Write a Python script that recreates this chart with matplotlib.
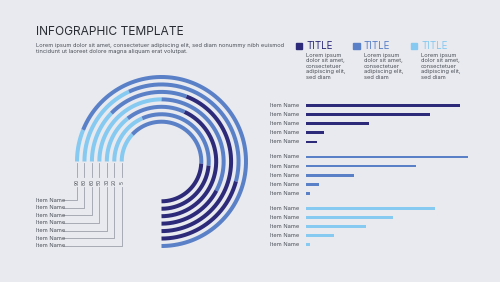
import numpy as np
import matplotlib.pyplot as plt

# ring data, outer -> inner (angles in degrees, clockwise from the left end, total 270)
ring_values = ["90", "80", "60", "50", "30", "20", "5"]
light_end = [22, 65, 44, 90, 52, 66, 43]
navy_start = [270, 195, 111, 208, 115, 185, 183]
ring_items = ["Item Name"] * 7

# bar data, three groups of five
group1 = [95, 77, 39, 11.5, 7]
group2 = [100, 68, 30, 8.5, 2.5]
group3 = [80, 54, 37, 17.5, 2.7]
bar_items = ["Item Name"] * 5

titles = ["TITLE", "TITLE", "TITLE"]
body = "Lorem ipsum\ndolor sit amet,\nconsectetuer\nadipiscing elit,\nsed diam"

navy = "#2d2a7a"
mid = "#5a80c8"
light = "#86c9f1"
bg = "#e8eaef"
grey = "#9da1aa"
txt = "#4a4d55"

plt.rcParams['font.family'] = ['Inter', 'DejaVu Sans']

fig = plt.figure(figsize=(5, 2.82), dpi=100)
fig.patch.set_facecolor(bg)
ax = fig.add_axes([0, 0, 1, 1])
ax.set_xlim(0, 500)
ax.set_ylim(282, 0)
ax.axis('off')
ax.set_facecolor(bg)

# header
ax.text(36, 32, "INFOGRAPHIC TEMPLATE", fontsize=8.6, color="#2a2c33", va='center')
ax.text(36, 45.5, "Lorem ipsum dolor sit amet, consectetuer adipiscing elit, sed diam nonummy nibh euismod",
        fontsize=4.1, color=txt, va='center')
ax.text(36, 51.5, "tincidunt ut laoreet dolore magna aliquam erat volutpat.",
        fontsize=4.1, color=txt, va='center')

# legend titles
for i, (t, c) in enumerate(zip(titles, [navy, mid, light])):
    x0 = 295.5 + i * 57.5
    ax.add_patch(plt.Rectangle((x0, 42.5), 6.5, 6.5, color=c))
    ax.text(x0 + 10.5, 46, t, fontsize=7, color=c, va='center')
    ax.text(x0 + 10.5, 52.5, body, fontsize=4.1, color=txt, va='top', linespacing=1.15)

# rings
cx, cy = 161.5, 161.5
r0, step = 84.5, 7.45
lw = 4 * 72 / 100
for i in range(7):
    r = r0 - i * step
    segs = [(0, light_end[i], light), (light_end[i], navy_start[i], mid), (navy_start[i], 270, navy)]
    for a, b, c in segs:
        if b <= a:
            continue
        th = np.radians(np.linspace(a, b, 200))
        ax.plot(cx - r * np.cos(th), cy - r * np.sin(th), color=c, lw=lw, solid_capstyle='butt')
    # connector to item name
    lx = cx - r
    iy = 200 + i * 7.65
    ax.plot([lx, lx], [163, 177], color=grey, lw=0.6)
    ax.text(lx, 182, ring_values[i], fontsize=3.6, color=txt, rotation=90, ha='center', va='center')
    ax.plot([lx, lx, 63], [187, iy, iy], color=grey, lw=0.6)
    ax.text(36, iy, ring_items[i], fontsize=4.1, color=txt, va='center')

# bars
bax = fig.add_axes([305.7 / 500, 1 - 252 / 282, 162 / 500, 152 / 282])
bax.set_xlim(0, 100)
bax.set_ylim(252, 100)
bax.axis('off')
for g, (vals, c) in enumerate(zip([group1, group2, group3], [navy, mid, light])):
    ys = 105.7 + g * 51.3 + np.arange(5) * 9.05
    bax.barh(ys, vals, height=2.8, color=c)
    for y, name in zip(ys, bar_items):
        ax.text(299, y, name, fontsize=4.1, color=txt, ha='right', va='center')

fig.savefig("out.png", dpi=100, facecolor=bg)
